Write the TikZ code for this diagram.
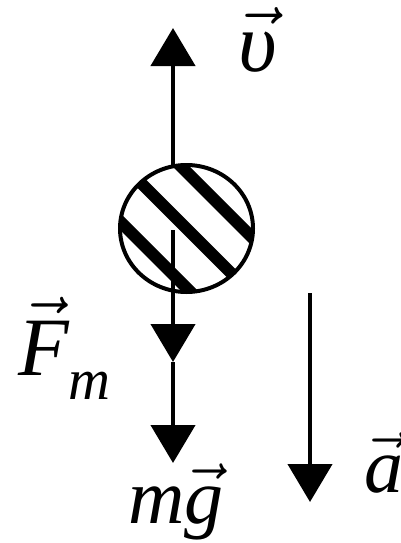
\documentclass[tikz,border=0pt]{standalone}
\usepackage{amsmath}
\usepackage{graphicx}
\usepackage{fontspec}
\setmainfont{Liberation Serif}
\usetikzlibrary{arrows.meta,shapes.geometric}
\tikzset{
  ballnode/.style={ellipse, draw=black, line width=4pt, minimum width=133pt,
    minimum height=127pt, inner sep=0pt},
  vecarrow/.style={-{Triangle[length=38pt,width=44pt]}, line width=4.5pt, black},
  lbl/.style={inner sep=0pt},
}
\newcommand{\biglbl}[2][7.8]{\scalebox{#1}{#2}}

\begin{document}
\begin{tikzpicture}[x=1pt,y=-1pt]
\useasboundingbox (0,0) rectangle (400,543);
\node[ballnode, path picture={
  \foreach \o in {40,0,-42}
    \draw[line width=12pt]
      ([shift={(0.707*\o,-0.707*\o)}]path picture bounding box.center)
      ++(-100,-100) -- ++(200,200);
}] (ball) at (186.5,228.5) {};

\coordinate (vstart) at (173,168);
\coordinate (vtip) at (173,28);
\coordinate (fmstart) at (173,230);
\coordinate (fmtip) at (173,362);
\coordinate (mgtip) at (173,463);
\coordinate (atop) at (310,293);
\coordinate (atip) at (310,502);

\draw[vecarrow] (vstart) -- (vtip);
\draw[vecarrow] (fmstart) -- (fmtip);
\draw[vecarrow] (fmtip) -- (mgtip);
\draw[vecarrow] (atop) -- (atip);

\node[lbl, anchor=base west] (vlabel) at (238,71) {\biglbl[8.4]{$\vec{\text{\itshape υ}}$}};
\node[lbl, anchor=base west] (fmlabel) at (18,375) {\biglbl[8.3]{$\vec{\text{\itshape F}}_{\text{\itshape\raisebox{-0.2em}{m}}}$}};
\node[lbl, anchor=base west] (mglabel) at (128,523) {\biglbl{$\text{\itshape m}\vec{\text{\itshape g}}$}};
\node[lbl, anchor=base west] (alabel) at (364,492) {\biglbl{$\vec{\text{\itshape a}}$}};
\end{tikzpicture}
\end{document}
